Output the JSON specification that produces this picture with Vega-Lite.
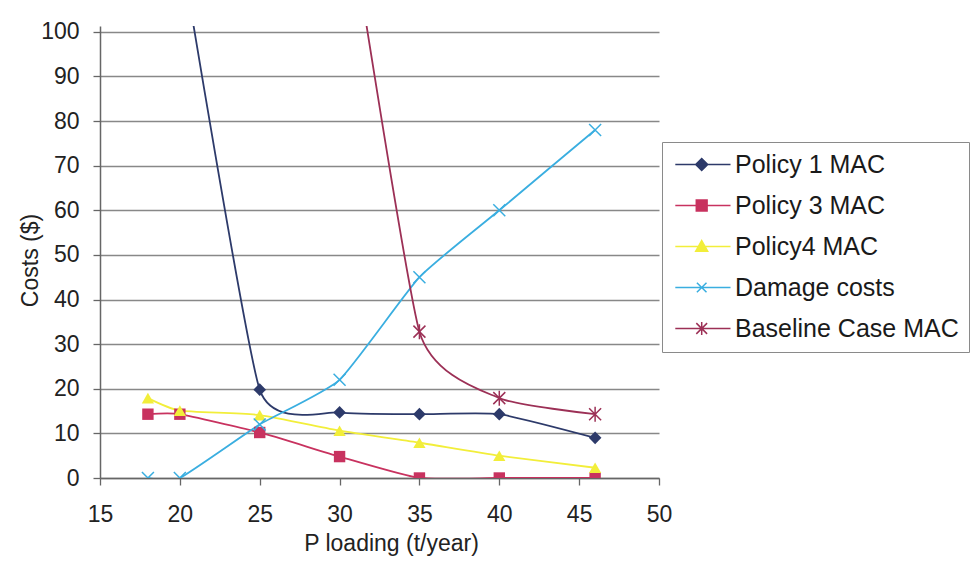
{
  "$schema": "https://vega.github.io/schema/vega-lite/v6.json",
  "autosize": "none",
  "width": 559,
  "height": 452,
  "padding": {"left": 100, "top": 26, "right": 315, "bottom": 88},
  "background": "white",
  "config": {"view": {"stroke": null}, "font": "Liberation Sans"},
  "data": {
    "values": [
      {"series": "Policy 1 MAC", "x": 20, "y": 120},
      {"series": "Policy 1 MAC", "x": 25, "y": 19.8},
      {"series": "Policy 1 MAC", "x": 30, "y": 14.7},
      {"series": "Policy 1 MAC", "x": 35, "y": 14.3},
      {"series": "Policy 1 MAC", "x": 40, "y": 14.3},
      {"series": "Policy 1 MAC", "x": 46, "y": 9},
      {"series": "Policy 3 MAC", "x": 18, "y": 14.3},
      {"series": "Policy 3 MAC", "x": 20, "y": 14.3},
      {"series": "Policy 3 MAC", "x": 25, "y": 10.2},
      {"series": "Policy 3 MAC", "x": 30, "y": 4.8},
      {"series": "Policy 3 MAC", "x": 35, "y": 0},
      {"series": "Policy 3 MAC", "x": 40, "y": 0},
      {"series": "Policy 3 MAC", "x": 46, "y": 0},
      {"series": "Policy4 MAC", "x": 18, "y": 17.9},
      {"series": "Policy4 MAC", "x": 20, "y": 15.1},
      {"series": "Policy4 MAC", "x": 25, "y": 14.1},
      {"series": "Policy4 MAC", "x": 30, "y": 10.6},
      {"series": "Policy4 MAC", "x": 35, "y": 7.9},
      {"series": "Policy4 MAC", "x": 40, "y": 5},
      {"series": "Policy4 MAC", "x": 46, "y": 2.3},
      {"series": "Damage costs", "x": 18, "y": 0},
      {"series": "Damage costs", "x": 20, "y": 0},
      {"series": "Damage costs", "x": 25, "y": 12},
      {"series": "Damage costs", "x": 30, "y": 22},
      {"series": "Damage costs", "x": 35, "y": 45},
      {"series": "Damage costs", "x": 40, "y": 60},
      {"series": "Damage costs", "x": 46, "y": 78},
      {"series": "Baseline Case MAC", "x": 30, "y": 140},
      {"series": "Baseline Case MAC", "x": 35, "y": 32.8},
      {"series": "Baseline Case MAC", "x": 40, "y": 17.9},
      {"series": "Baseline Case MAC", "x": 46, "y": 14.3}
    ]
  },
  "encoding": {
    "x": {
      "field": "x", "type": "quantitative",
      "scale": {"domain": [15, 50], "nice": false, "zero": false},
      "axis": {
        "values": [15, 20, 25, 30, 35, 40, 45, 50],
        "title": "P loading (t/year)",
        "grid": false,
        "tickSize": 7, "tickColor": "#666666", "tickWidth": 1.3,
        "domainColor": "#666666", "domainWidth": 1.5,
        "labelPadding": 18, "labelFontSize": 23, "labelColor": "#222222",
        "labelFlush": false, "labelOverlap": false,
        "titleFontSize": 23, "titleFontWeight": "normal", "titleColor": "#222222",
        "titleX": 291, "titleY": 72, "titleBaseline": "alphabetic", "titleAlign": "center"
      }
    },
    "y": {
      "field": "y", "type": "quantitative",
      "scale": {"domain": [0, 101.3], "nice": false},
      "axis": {
        "values": [0, 10, 20, 30, 40, 50, 60, 70, 80, 90, 100],
        "title": "Costs ($)",
        "grid": true, "gridColor": "#888888", "gridWidth": 1.4,
        "tickSize": 7, "tickColor": "#666666", "tickWidth": 1.3,
        "domainColor": "#666666", "domainWidth": 1.5,
        "labelPadding": 14, "labelFontSize": 23, "labelColor": "#222222",
        "labelFlush": false, "labelOverlap": false,
        "titleFontSize": 23, "titleFontWeight": "normal", "titleColor": "#222222",
        "titleX": -63, "titleY": 234, "titleAngle": 270, "titleBaseline": "alphabetic", "titleAlign": "center"
      }
    },
    "color": {
      "field": "series", "type": "nominal",
      "scale": {
        "domain": ["Policy 1 MAC", "Policy 3 MAC", "Policy4 MAC", "Damage costs", "Baseline Case MAC"],
        "range": ["#2d3a6a", "#c8325f", "#f2ee3a", "#3aaee0", "#9c3056"]
      },
      "legend": {
        "title": null,
        "orient": "none",
        "legendX": 562,
        "legendY": 116,
        "padding": 10,
        "strokeColor": "#8a8a8a",
        "fillColor": "white",
        "labelFontSize": 25,
        "labelColor": "#1a1a1a",
        "labelLimit": 400,
        "symbolSize": 144,
        "symbolStrokeWidth": 1.5,
        "symbolOffset": 22,
        "labelOffset": 16,
        "rowPadding": 15,
        "encode": {
          "symbols": {
            "update": {
              "shape": {"signal": "datum.value == 'Policy 1 MAC' ? 'M-5.2,0H4M-0.8,-1L0.2,0L-0.8,1L-1.8,0Z' : datum.value == 'Policy 3 MAC' ? 'M-5.2,0H4M-1.7,-0.9H0.1V0.9H-1.7Z' : datum.value == 'Policy4 MAC' ? 'M-5.2,0H4M-0.8,-1L0.2,0.8H-1.8Z' : datum.value == 'Damage costs' ? 'M-5.2,0H4M-1.6,-0.8L0,0.8M-1.6,0.8L0,-0.8' : 'M-5.2,0H4M-1.7,-0.9L0.1,0.9M-1.7,0.9L0.1,-0.9M-0.8,-1.1V1.1'"},
              "fill": {"scale": "color", "field": "value"},
              "stroke": {"scale": "color", "field": "value"},
              "strokeWidth": {"value": 1.5},
              "size": {"value": 144},
              "opacity": {"value": 1}
            }
          }
        }
      }
    }
  },
  "layer": [
    {
      "mark": {"type": "line", "interpolate": "cardinal", "tension": 0.5, "clip": true, "strokeWidth": 1.8}
    },
    {
      "transform": [{"filter": "datum.series == 'Policy 1 MAC'"}],
      "mark": {"type": "point", "shape": "diamond", "filled": true, "clip": true, "size": 160, "opacity": 1}
    },
    {
      "transform": [{"filter": "datum.series == 'Policy 3 MAC'"}],
      "mark": {"type": "point", "shape": "square", "filled": true, "clip": true, "size": 130, "opacity": 1}
    },
    {
      "transform": [{"filter": "datum.series == 'Policy4 MAC'"}],
      "mark": {"type": "point", "shape": "triangle-up", "filled": true, "clip": true, "size": 150, "opacity": 1}
    },
    {
      "transform": [{"filter": "datum.series == 'Damage costs'"}],
      "mark": {"type": "point", "shape": "M-1,-1L1,1M-1,1L1,-1", "filled": false, "clip": true, "size": 144, "strokeWidth": 1.5, "opacity": 1}
    },
    {
      "transform": [{"filter": "datum.series == 'Baseline Case MAC'"}],
      "mark": {"type": "point", "shape": "M-1,-1L1,1M-1,1L1,-1M0,-1.25V1.25", "filled": false, "clip": true, "size": 144, "strokeWidth": 1.5, "opacity": 1}
    }
  ]
}
